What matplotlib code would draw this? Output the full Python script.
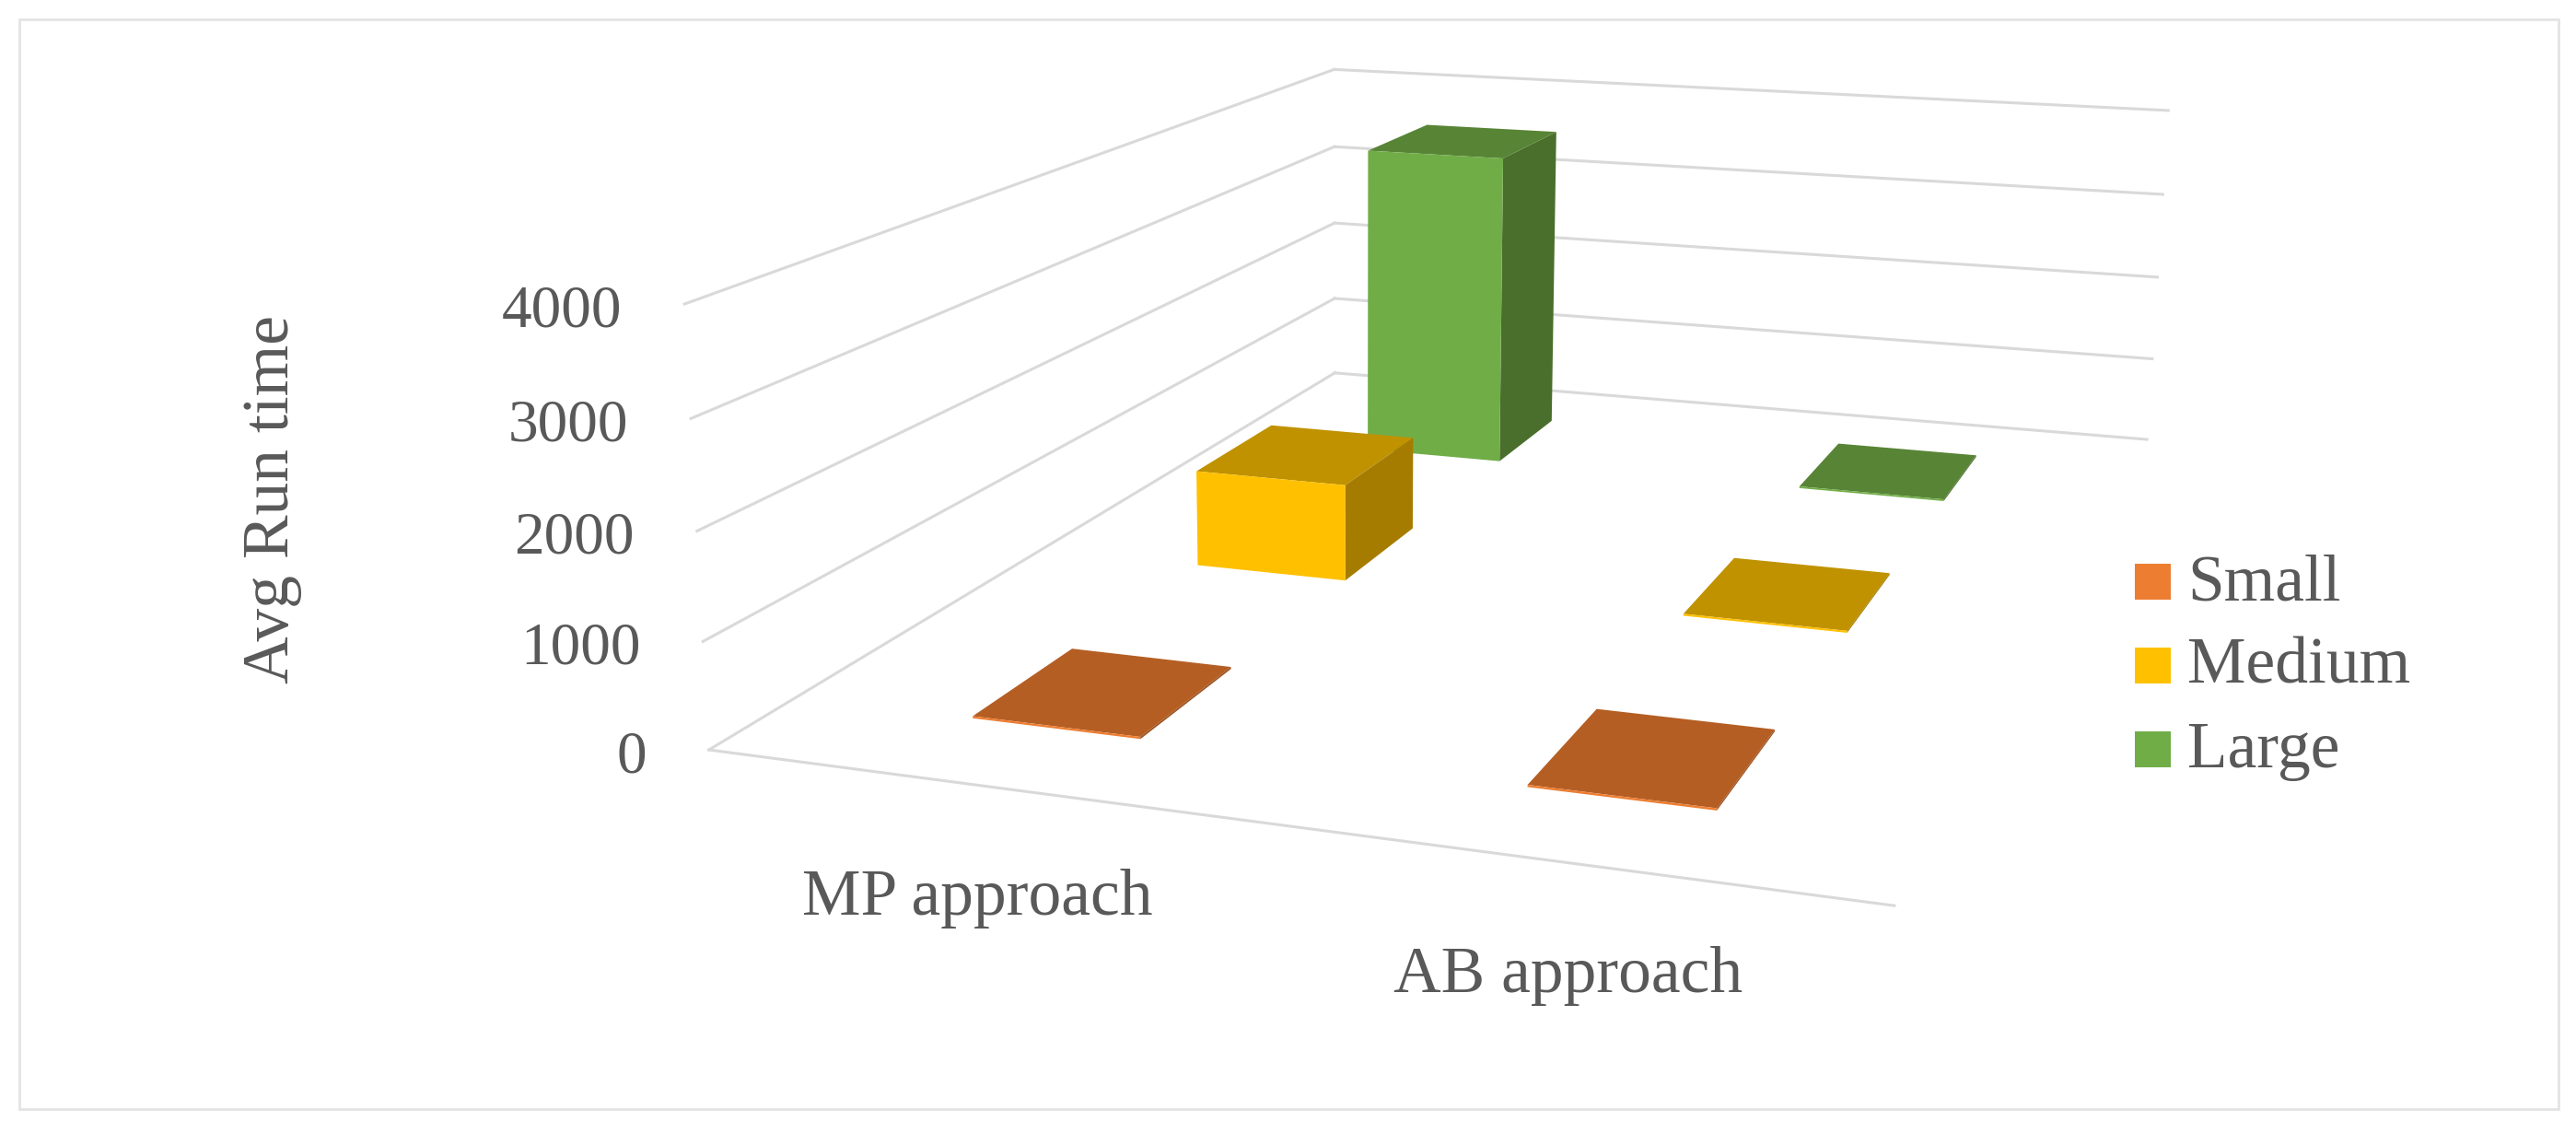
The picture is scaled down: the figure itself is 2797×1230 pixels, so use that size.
import numpy as np
import matplotlib
matplotlib.use("Agg")
import matplotlib.pyplot as plt
from matplotlib.patches import Patch, Rectangle
from matplotlib.legend_handler import HandlerPatch
from mpl_toolkits.mplot3d.art3d import Line3DCollection

# ---- data ----
categories = ["MP approach", "AB approach"]
series_names = ["Small", "Medium", "Large"]
small_values = [20, 20]
medium_values = [1020, 20]
large_values = [3600, 20]
z_ticks = [0, 1000, 2000, 3000, 4000]
y_title = "Avg Run time"

# ---- style ----
FONT = "Liberation Serif"
TEXT = "#595959"
GRID = "#D9D9D9"
FRONT = ["#ED7D31", "#FFC000", "#70AD47"]
TOP = ["#B55E23", "#C09200", "#588436"]
SIDE = ["#9C5220", "#A67C00", "#4A6F2C"]
W, H = 2797, 1230
BAR_W, BAR_D = 0.315, 0.405

# Camera matrix: (category, series, value) -> pixels of the picture
P = np.array([[519.556893, 466.698722, -13.350543 / 1000, 769.733745],
              [25.296255, -69.309751, -123.989154 / 1000, 814.031604],
              [-0.060297, 0.165723, -0.009058 / 1000, 1.0]])
M = np.array([P[0], H * P[2] - P[1], P[2] - [0, 0, 0, 1], P[2]])


def screen(x, y, z):
    q = M @ np.array([x, y, z, 1.0])
    return q[0] / q[3], q[1] / q[3]


fig = plt.figure(figsize=(W / 100, H / 100), dpi=100, facecolor="white")
ax = fig.add_axes([0, 0, 1, 1], projection="3d")
ax.get_proj = lambda: M
ax.apply_aspect = lambda position=None: None
ax._viewLim.intervalx = (0, W)
ax._viewLim.intervaly = (0, H)
ax.computed_zorder = False
ax.set_axis_off()
ax.patch.set_visible(False)

n_cat, n_ser = len(categories), len(series_names)

# gridlines on the two walls and the front floor edge
segments = []
for t in z_ticks:
    segments.append([(0, 0, t), (0, n_ser, t)])
    segments.append([(0, n_ser, t), (n_cat, n_ser, t)])
segments.append([(0, 0, 0), (n_cat, 0, 0)])
ax.add_collection3d(Line3DCollection(segments, colors=GRID, linewidths=2.2, zorder=1,
                                     capstyle="projecting"))

# bars: back series first
none = (0, 0, 0, 0)
for s, values in reversed(list(enumerate([small_values, medium_values, large_values]))):
    for c, v in enumerate(values):
        faces = [none, TOP[s], FRONT[s], none, none, SIDE[s]]
        ax.bar3d(c + 0.5 - BAR_W / 2, s + 0.5 - BAR_D / 2, 0, BAR_W, BAR_D, v,
                 color=faces, shade=False, edgecolor="none", linewidth=0,
                 zorder=2 + (n_ser - s))

# value labels
for t in z_ticks:
    u, v = screen(0, 0, t)
    fig.text((u - 68) / W, (v - 24.5) / H, str(t), ha="right", va="baseline",
             color=TEXT, family=FONT, fontsize=47)

# category labels
for c, name in enumerate(categories):
    u, v = screen(c + 0.5, 0, 0)
    fig.text(u / W, (v - 140.5) / H, name, ha="center", va="baseline",
             color=TEXT, family=FONT, fontsize=51.5)

fig.text(313.5 / W, 1 - 542 / H, y_title, rotation=90, rotation_mode="anchor",
         ha="center", va="baseline", color=TEXT, family=FONT, fontsize=51.5)


# legend: swatches sit on the text baseline
def swatch(legend, orig_handle, xdescent, ydescent, width, height, fontsize):
    return Rectangle((-xdescent, 0), width, 0.545 * fontsize)


handles = [Patch(facecolor=col, edgecolor="none", label=nm) for col, nm in zip(FRONT, series_names)]
fig.legend(handles=handles, loc="upper left", bbox_to_anchor=(2318 / W, 1 - 601 / H),
           frameon=False, borderpad=0, borderaxespad=0, prop={"family": FONT, "size": 51.5},
           labelcolor=TEXT, handlelength=0.545, handleheight=0.55, handletextpad=0.25,
           labelspacing=0.36, handler_map={Patch: HandlerPatch(patch_func=swatch)})

# chart frame
fig.add_artist(Rectangle((21 / W, 1 - 1204 / H), (2778 - 21) / W, (1204 - 21) / H,
                         transform=fig.transFigure, fill=False, edgecolor="#E3E3E3", lw=2))

fig.savefig("out.png", dpi=100, facecolor="white")
